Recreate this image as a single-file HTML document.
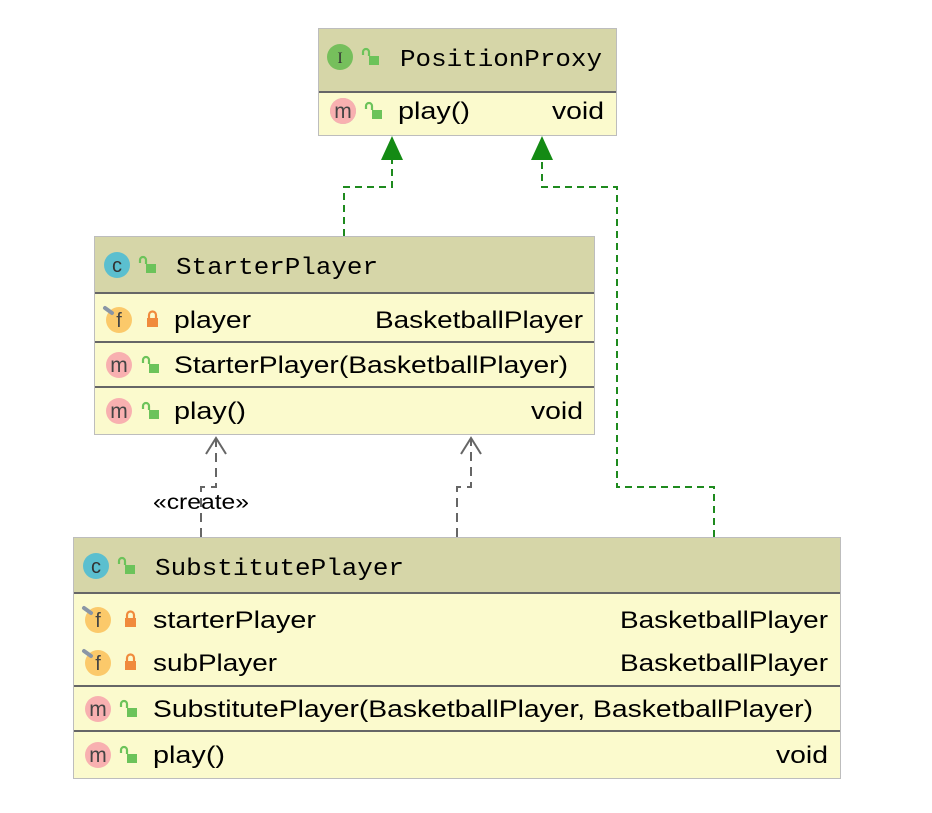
<!DOCTYPE html>
<html><head><meta charset="utf-8"><style>html,body{margin:0;padding:0;background:#fff}</style></head>
<body>
<svg width="932" height="808" viewBox="0 0 932 808" xmlns="http://www.w3.org/2000/svg" font-family="Liberation Sans, sans-serif">
<defs>
<g id="ol"><rect x="-3" y="-1" width="10" height="9" fill="#6cc35a"/><path d="M-3,-1 V-5 A3,3 0 0 0 -9,-5 V-2" fill="none" stroke="#6cc35a" stroke-width="2.2"/></g>
<g id="cl"><rect x="-5" y="-2" width="11" height="9" fill="#f08a3c"/><path d="M-3,-2 V-5 A3,3 0 0 1 4,-5 V-2" fill="none" stroke="#f08a3c" stroke-width="2.2"/></g>
<g id="mi"><circle r="13" fill="#f8b0b0"/><text y="7" text-anchor="middle" font-size="21" fill="#444">m</text></g>
<g id="fi"><circle r="13" fill="#fbc96a"/><text y="7" text-anchor="middle" font-size="20" fill="#444">f</text><path d="M-14,-12 L-7,-7" stroke="#8a96a6" stroke-width="4" stroke-linecap="round"/></g>
<g id="ci"><circle r="13" fill="#5bbfcf"/><text y="7" text-anchor="middle" font-size="20" fill="#333">c</text></g>
</defs>

<g fill="none" stroke="#1e8a1e" stroke-width="2" stroke-dasharray="7,5">
<path d="M344,236 V187 H392 V158"/>
<path d="M714,537 V487 H617 V187 H542 V158"/>
</g>
<polygon points="392,136 381,160 403,160" fill="#148a14"/>
<polygon points="542,136 531,160 553,160" fill="#148a14"/>
<g fill="none" stroke="#666" stroke-width="2" stroke-dasharray="9,6">
<path d="M201,537 V487 H216 V438"/>
<path d="M457,537 V487 H471 V438"/>
</g>
<g fill="none" stroke="#666" stroke-width="2">
<path d="M206,454 L216,438 L226,454"/>
<path d="M461,454 L471,438 L481,454"/>
</g>
<text x="153" y="509" font-size="21" textLength="96" lengthAdjust="spacingAndGlyphs">«create»</text>

<!-- PositionProxy -->
<rect x="318.5" y="28.5" width="298" height="107" fill="#fbfacd" stroke="#bdbdbd"/>
<rect x="319" y="29" width="297" height="63" fill="#d6d6a8"/>
<line x1="319" y1="92" x2="616" y2="92" stroke="#666" stroke-width="2"/>
<circle cx="340" cy="57" r="13" fill="#76bf5c"/><text x="340" y="63" text-anchor="middle" font-size="16" font-family="Liberation Serif, serif" fill="#333">I</text>
<use href="#ol" x="372" y="57"/>
<text x="400" y="66" font-size="24" font-family="Liberation Mono, monospace" textLength="202" lengthAdjust="spacingAndGlyphs">PositionProxy</text>
<circle cx="343" cy="111" r="13" fill="#bbb"/><use href="#mi" x="343" y="111"/>
<use href="#ol" x="375" y="111"/>
<text x="398" y="119" font-size="24" textLength="72" lengthAdjust="spacingAndGlyphs">play()</text>
<text x="552" y="119" font-size="24" textLength="52" lengthAdjust="spacingAndGlyphs">void</text>

<!-- StarterPlayer -->
<rect x="94.5" y="236.5" width="500" height="198" fill="#fbfacd" stroke="#bdbdbd"/>
<rect x="95" y="237" width="499" height="55" fill="#d6d6a8"/>
<line x1="95" y1="293" x2="594" y2="293" stroke="#666" stroke-width="2"/>
<line x1="95" y1="342" x2="594" y2="342" stroke="#666" stroke-width="2"/>
<line x1="95" y1="387" x2="594" y2="387" stroke="#666" stroke-width="2"/>
<use href="#ci" x="117" y="265"/><use href="#ol" x="149" y="265"/>
<text x="176" y="274" font-size="24" font-family="Liberation Mono, monospace" textLength="202" lengthAdjust="spacingAndGlyphs">StarterPlayer</text>
<use href="#fi" x="119" y="320"/><use href="#cl" x="152" y="320"/>
<text x="174" y="328" font-size="24" textLength="77" lengthAdjust="spacingAndGlyphs">player</text>
<text x="375" y="328" font-size="24" textLength="208" lengthAdjust="spacingAndGlyphs">BasketballPlayer</text>
<use href="#mi" x="119" y="365"/><use href="#ol" x="152" y="365"/>
<text x="174" y="373" font-size="24" textLength="394" lengthAdjust="spacingAndGlyphs">StarterPlayer(BasketballPlayer)</text>
<use href="#mi" x="119" y="411"/><use href="#ol" x="152" y="411"/>
<text x="174" y="419" font-size="24" textLength="72" lengthAdjust="spacingAndGlyphs">play()</text>
<text x="531" y="419" font-size="24" textLength="52" lengthAdjust="spacingAndGlyphs">void</text>

<!-- SubstitutePlayer -->
<rect x="73.5" y="537.5" width="767" height="241" fill="#fbfacd" stroke="#bdbdbd"/>
<rect x="74" y="538" width="766" height="55" fill="#d6d6a8"/>
<line x1="74" y1="593" x2="840" y2="593" stroke="#666" stroke-width="2"/>
<line x1="74" y1="686" x2="840" y2="686" stroke="#666" stroke-width="2"/>
<line x1="74" y1="731" x2="840" y2="731" stroke="#666" stroke-width="2"/>
<use href="#ci" x="96" y="566"/><use href="#ol" x="128" y="566"/>
<text x="155" y="575" font-size="24" font-family="Liberation Mono, monospace" textLength="249" lengthAdjust="spacingAndGlyphs">SubstitutePlayer</text>
<use href="#fi" x="98" y="620"/><use href="#cl" x="130" y="620"/>
<text x="153" y="628" font-size="24" textLength="163" lengthAdjust="spacingAndGlyphs">starterPlayer</text>
<text x="620" y="628" font-size="24" textLength="208" lengthAdjust="spacingAndGlyphs">BasketballPlayer</text>
<use href="#fi" x="98" y="663"/><use href="#cl" x="130" y="663"/>
<text x="153" y="671" font-size="24" textLength="124" lengthAdjust="spacingAndGlyphs">subPlayer</text>
<text x="620" y="671" font-size="24" textLength="208" lengthAdjust="spacingAndGlyphs">BasketballPlayer</text>
<use href="#mi" x="98" y="709"/><use href="#ol" x="130" y="709"/>
<text x="153" y="717" font-size="24" textLength="660" lengthAdjust="spacingAndGlyphs">SubstitutePlayer(BasketballPlayer, BasketballPlayer)</text>
<use href="#mi" x="98" y="755"/><use href="#ol" x="130" y="755"/>
<text x="153" y="763" font-size="24" textLength="72" lengthAdjust="spacingAndGlyphs">play()</text>
<text x="776" y="763" font-size="24" textLength="52" lengthAdjust="spacingAndGlyphs">void</text>
</svg>
</body></html>
